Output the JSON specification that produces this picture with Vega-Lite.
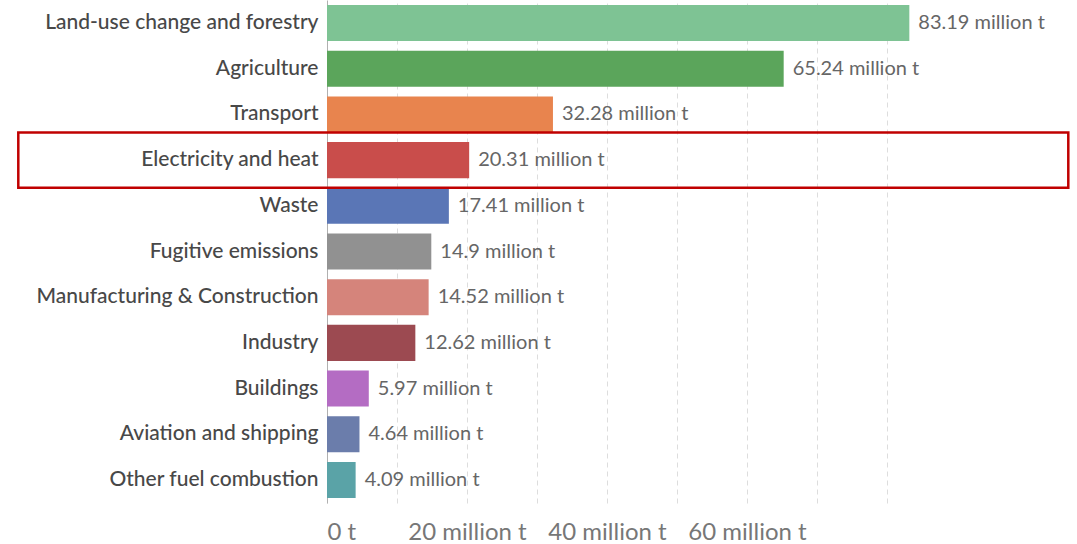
{
  "$schema": "https://vega.github.io/schema/vega-lite/v6.json",
  "autosize": "none",
  "width": 630,
  "height": 503,
  "padding": {"left": 327, "top": 0, "right": 120, "bottom": 41},
  "background": "white",
  "config": {
    "view": {"stroke": null},
    "font": "Lato"
  },
  "data": {
    "values": [
      {"sector": "Land-use change and forestry", "value": 83.19, "label": "83.19 million t"},
      {"sector": "Agriculture", "value": 65.24, "label": "65.24 million t"},
      {"sector": "Transport", "value": 32.28, "label": "32.28 million t"},
      {"sector": "Electricity and heat", "value": 20.31, "label": "20.31 million t"},
      {"sector": "Waste", "value": 17.41, "label": "17.41 million t"},
      {"sector": "Fugitive emissions", "value": 14.9, "label": "14.9 million t"},
      {"sector": "Manufacturing & Construction", "value": 14.52, "label": "14.52 million t"},
      {"sector": "Industry", "value": 12.62, "label": "12.62 million t"},
      {"sector": "Buildings", "value": 5.97, "label": "5.97 million t"},
      {"sector": "Aviation and shipping", "value": 4.64, "label": "4.64 million t"},
      {"sector": "Other fuel combustion", "value": 4.09, "label": "4.09 million t"}
    ]
  },
  "encoding": {
    "y": {
      "field": "sector",
      "type": "nominal",
      "sort": null,
      "scale": {"paddingInner": 0.21, "paddingOuter": 0.11},
      "axis": {
        "title": null,
        "ticks": false,
        "domain": true,
        "domainColor": "#b0b0b0",
        "domainWidth": 1,
        "labelFontSize": 21,
        "labelFontWeight": 500,
        "labelColor": "#484848",
        "labelPadding": 9,
        "labelLimit": 400,
        "grid": false
      }
    }
  },
  "layer": [
    {
      "mark": {"type": "bar"},
      "encoding": {
        "x": {
          "field": "value",
          "type": "quantitative",
          "scale": {"domain": [0, 90], "nice": false},
          "axis": {
            "title": null,
            "values": [0, 10, 20, 30, 40, 50, 60, 70, 80],
            "labelExpr": "datum.value == 0 ? '0 t' : ((datum.value % 20 == 0 && datum.value < 80) ? datum.value + ' million t' : '')",
            "labelOverlap": false,
            "labelFlush": true,
            "labelFontSize": 24,
            "labelColor": "#777777",
            "labelPadding": 17,
            "ticks": false,
            "domain": false,
            "grid": true,
            "gridColor": "#dddddd",
            "gridDash": [5, 4],
            "gridWidth": 1
          }
        },
        "color": {
          "field": "sector",
          "type": "nominal",
          "legend": null,
          "scale": {
            "domain": ["Land-use change and forestry", "Agriculture", "Transport", "Electricity and heat", "Waste", "Fugitive emissions", "Manufacturing & Construction", "Industry", "Buildings", "Aviation and shipping", "Other fuel combustion"],
            "range": ["#7ec394", "#5ba55b", "#e8844e", "#c94d4b", "#5a76b6", "#919191", "#d5847b", "#9c4a51", "#b46cc3", "#6b7dab", "#5aa3a7"]
          }
        }
      }
    },
    {
      "mark": {"type": "text", "align": "left", "baseline": "middle", "dx": 9, "fontSize": 20, "color": "#666666"},
      "encoding": {
        "x": {"field": "value", "type": "quantitative"},
        "text": {"field": "label"}
      }
    },
    {
      "transform": [{"filter": "datum.sector == 'Electricity and heat'"}],
      "mark": {"type": "rect", "filled": false, "stroke": "#c00000", "strokeWidth": 2.5, "height": {"band": 1.53}},
      "encoding": {
        "x": {"datum": -44.1},
        "x2": {"datum": 105.9}
      }
    }
  ]
}
